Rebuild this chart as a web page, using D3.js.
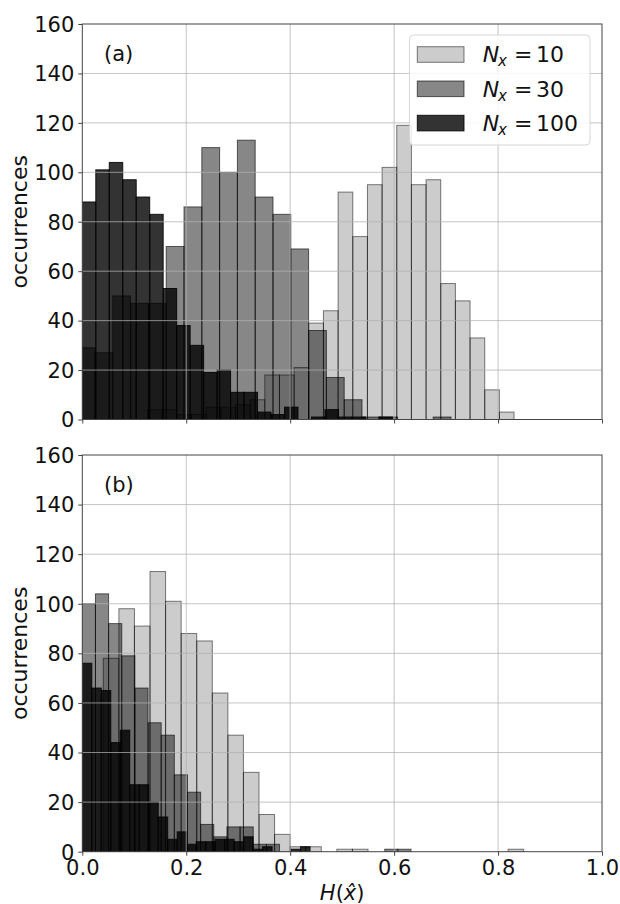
<!DOCTYPE html>
<html>
<head>
<meta charset="utf-8">
<script src="https://cdn.jsdelivr.net/npm/d3@7"></script>
<style>
  body { margin: 0; background: #fff; }
  text { font-family: "DejaVu Sans", sans-serif; fill: #111; }
</style>
</head>
<body>
<div id="chart"></div>
<script>
// ticks
const xTicks = [0, 0.2, 0.4, 0.6, 0.8, 1.0];
const yTicks = [0, 20, 40, 60, 80, 100, 120, 140, 160];
const seriesNames = ["10", "30", "100"];

// panel (a): bin start, bin width, counts per series
const a10Start = 0.1255, a10Width = 0.02821;
const a10Counts = [4, 4, 2, 2, 5, 5, 6, 8, 18, 18, 21, 39, 44, 92, 74, 95, 102, 119, 95, 97, 55, 48, 33, 12, 3];
const a30Start = -0.0098, a30Width = 0.03425;
const a30Counts = [29, 27, 50, 47, 47, 70, 86, 110, 100, 113, 90, 83, 69, 36, 17, 8, 1, 1, 0, 0, 1];
const a100Start = 0, a100Width = 0.02594;
const a100Counts = [88, 101, 104, 97, 90, 83, 53, 38, 30, 19, 20, 11, 11, 3, 2, 5, 0, 1, 4, 1, 1, 0, 1];

// panel (b)
const b10Start = 0.0404, b10Width = 0.02996;
const b10Counts = [78, 98, 91, 113, 101, 88, 85, 64, 47, 32, 15, 7, 2, 2, 0, 1, 1, 0, 0, 0, 0, 0, 0, 0, 0, 0, 1];
const b30Start = 0, b30Width = 0.0253;
const b30Counts = [100, 104, 92, 79, 66, 52, 47, 31, 24, 11, 6, 10, 10, 3, 3, 0, 0, 0, 0, 0, 0, 0, 0, 1, 1];
const b100Start = 0, b100Width = 0.01826;
const b100Counts = [76, 66, 65, 44, 49, 27, 27, 20, 14, 5, 8, 3, 4, 4, 5, 5, 4, 6, 1, 2, 0, 0, 1, 2];

// black with alpha, like the matplotlib grey levels
const fillOp = [0.2, 0.47, 0.8];
const strokeOp = [0.5, 0.6, 0.85];

const W = 620, H = 904;
const svg = d3.select("#chart").append("svg")
    .attr("width", W).attr("height", H);

const x = d3.scaleLinear().domain([0, 1]).range([82.3, 602]);

function binsOf(start, width, counts) {
    return counts.map((c, i) => ({x0: start + i * width, x1: start + (i + 1) * width, c: c}))
        .filter(d => d.c > 0);
}

function drawPanel(id, top, bottom, series, label, showX) {
    const y = d3.scaleLinear().domain([0, 160]).range([bottom, top]);
    const g = svg.append("g");

    g.append("clipPath").attr("id", "clip" + id)
      .append("rect")
        .attr("x", x(0)).attr("y", top)
        .attr("width", x(1) - x(0)).attr("height", bottom - top);

    const bars = g.append("g").attr("clip-path", "url(#clip" + id + ")");
    series.forEach((s, k) => {
        bars.append("g").selectAll("rect")
            .data(binsOf(s.start, s.width, s.counts))
            .enter().append("rect")
            .attr("x", d => x(d.x0))
            .attr("width", d => x(d.x1) - x(d.x0))
            .attr("y", d => y(d.c))
            .attr("height", d => y(0) - y(d.c))
            .attr("fill", "#000").attr("fill-opacity", fillOp[k])
            .attr("stroke", "#000").attr("stroke-opacity", strokeOp[k])
            .attr("stroke-width", 1);
    });

    // grid above the bars
    const grid = g.append("g").attr("stroke", "#b0b0b0").attr("stroke-opacity", 0.75).attr("stroke-width", 1);
    grid.selectAll(".gy").data(yTicks.slice(1, -1)).enter().append("line")
        .attr("x1", x(0)).attr("x2", x(1))
        .attr("y1", d => y(d)).attr("y2", d => y(d));
    grid.selectAll(".gx").data(xTicks.slice(1, -1)).enter().append("line")
        .attr("y1", top).attr("y2", bottom)
        .attr("x1", d => x(d)).attr("x2", d => x(d));

    // axes
    const ya = g.append("g").attr("transform", "translate(" + x(0) + ",0)")
        .call(d3.axisLeft(y).tickValues(yTicks).tickSize(4).tickPadding(4).tickFormat(d3.format("d")));
    const xa = g.append("g").attr("transform", "translate(0," + bottom + ")")
        .call(d3.axisBottom(x).tickValues(xTicks).tickSize(4).tickPadding(4)
            .tickFormat(showX ? d3.format(".1f") : ""));
    [ya, xa].forEach(a => {
        a.select(".domain").remove();
        a.selectAll("line").attr("stroke", "#444");
        a.selectAll("text").style("font-size", "21px").attr("fill", "#111");
    });
    ya.selectAll("text").attr("dy", "0.35em");

    g.append("rect")
        .attr("x", x(0)).attr("y", top)
        .attr("width", x(1) - x(0)).attr("height", bottom - top)
        .attr("fill", "none").attr("stroke", "#444").attr("stroke-width", 1);

    g.append("text")
        .attr("transform", "translate(27," + ((top + bottom) / 2) + ") rotate(-90)")
        .attr("text-anchor", "middle")
        .style("font-size", "22px")
        .text("occurrences");

    g.append("text")
        .attr("x", 104).attr("y", top + 36.5)
        .style("font-size", "21px")
        .text(label);
    return g;
}

const ga = drawPanel("a", 24, 419.5, [
    {start: a10Start, width: a10Width, counts: a10Counts},
    {start: a30Start, width: a30Width, counts: a30Counts},
    {start: a100Start, width: a100Width, counts: a100Counts}
], "(a)", false);

drawPanel("b", 455, 851.7, [
    {start: b10Start, width: b10Width, counts: b10Counts},
    {start: b30Start, width: b30Width, counts: b30Counts},
    {start: b100Start, width: b100Width, counts: b100Counts}
], "(b)", true);

// legend
const lg = ga.append("g");
lg.append("rect")
    .attr("x", 409.5).attr("y", 35).attr("width", 180.5).attr("height", 110)
    .attr("rx", 4).attr("fill", "#fff").attr("fill-opacity", 0.85)
    .attr("stroke", "#d6d6d6").attr("stroke-width", 1);
seriesNames.forEach((n, k) => {
    const cy = 54.5 + k * 34.3;
    lg.append("rect")
        .attr("x", 417.3).attr("y", cy - 7.8).attr("width", 46.7).attr("height", 15.6)
        .attr("fill", "#000").attr("fill-opacity", fillOp[k])
        .attr("stroke", "#000").attr("stroke-opacity", strokeOp[k]);
    const t = lg.append("text").attr("y", cy + 7.9).style("font-size", "22px");
    t.append("tspan").attr("x", 482.7).style("font-style", "italic").text("N");
    t.append("tspan").attr("x", 498).attr("dy", 4).style("font-style", "italic").style("font-size", "15px").text("x");
    t.append("tspan").attr("x", 514).attr("dy", -4).text("=");
    t.append("tspan").attr("x", 536).text(n);
});

// x axis title
const xt = svg.append("text")
    .attr("x", x(0.5)).attr("y", 900)
    .attr("text-anchor", "middle")
    .style("font-size", "21px");
xt.append("tspan").style("font-style", "italic").text("H");
xt.append("tspan").text("(");
xt.append("tspan").style("font-style", "italic").text("x\u0302");
xt.append("tspan").text(")");
</script>
</body>
</html>
